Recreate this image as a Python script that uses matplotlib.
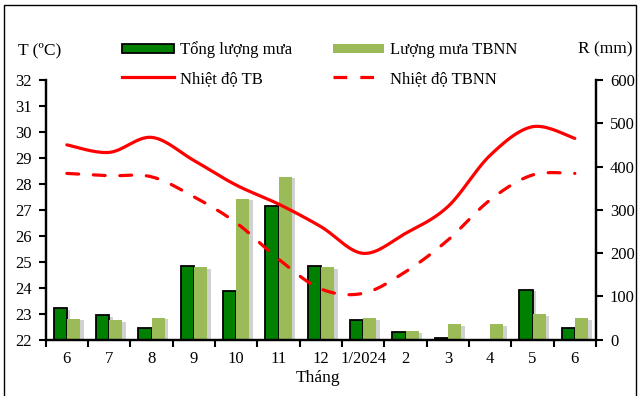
import numpy as np
import matplotlib
matplotlib.use("Agg")
import matplotlib.pyplot as plt
import matplotlib.patheffects as pe
from matplotlib.lines import Line2D
from matplotlib.patches import Patch, Rectangle

months = ["6", "7", "8", "9", "10", "11", "12", "1/2024", "2", "3", "4", "5", "6"]
rain_total = [72, 56, 27, 170, 112, 309, 170, 46, 17, 4, 0, 115, 27]
rain_tbnn = [48, 44, 50, 167, 326, 376, 167, 49, 19, 35, 35, 58, 49]
temp_tb = [29.5, 29.21, 29.79, 28.9, 27.95, 27.22, 26.35, 25.32, 26.09, 27.12, 29.1, 30.2, 29.75]
temp_tbnn = [28.4, 28.31, 28.27, 27.5, 26.5, 25.1, 23.95, 23.78, 24.61, 25.83, 27.38, 28.34, 28.4]

plt.rcParams['font.family'] = ['Liberation Serif', 'DejaVu Serif']

def catmull(x, y, n=30):
    x = np.asarray(x, float); y = np.asarray(y, float)
    px = np.concatenate([[x[0]], x, [x[-1]]])
    py = np.concatenate([[y[0]], y, [y[-1]]])
    xs, ys = [], []
    t = np.linspace(0, 1, n, endpoint=False)
    for i in range(1, len(px) - 2):
        for arr, out in ((px, xs), (py, ys)):
            p0, p1, p2, p3 = arr[i-1], arr[i], arr[i+1], arr[i+2]
            out.append(0.5 * ((2*p1) + (-p0 + p2)*t + (2*p0 - 5*p1 + 4*p2 - p3)*t**2
                              + (-p0 + 3*p1 - 3*p2 + p3)*t**3))
    xs.append([x[-1]]); ys.append([y[-1]])
    return np.concatenate(xs), np.concatenate(ys)

fig = plt.figure(figsize=(6.4, 3.96), dpi=100)
ax = fig.add_axes([45.7/640, 1-339.5/396, (596-45.7)/640, (339.5-80)/396])
ax2 = ax.twinx()
ax.set_zorder(2)
ax.patch.set_visible(False)

x = np.arange(len(months))
w = 0.314
shadow = [pe.SimplePatchShadow(offset=(2.5, -1), shadow_rgbFace='0.55', alpha=0.4), pe.Normal()]
ax2.bar(x - w/2, rain_total, width=w, color='#008000', edgecolor='black', linewidth=1.3,
        path_effects=shadow)
ax2.bar(x + w/2, rain_tbnn, width=w, color='#9BBB59', edgecolor='none',
        path_effects=shadow)

dash = (3.7, 4.6)
sx, sy = catmull(x, temp_tb)
ax.plot(sx, sy, color='#FF0000', lw=2.3, solid_capstyle='round')
sx, sy = catmull(x, temp_tbnn)
ax.plot(sx, sy, color='#FF0000', lw=2.3, dashes=dash, dash_capstyle='round')

ax.set_xlim(-0.5, len(months) - 0.5)
ax.set_ylim(22, 32)
ax.set_yticks(np.arange(22, 33, 1))
ax2.set_ylim(0, 600)
ax2.set_yticks(np.arange(0, 601, 100))

ax.set_xticks(np.arange(-0.5, len(months), 1))
ax.set_xticklabels([])
ax.set_xticks(x, minor=True)
ax.set_xticklabels(months, minor=True)
ax.tick_params(axis='x', which='major', length=5, width=1.5, direction='out')
ax.tick_params(axis='x', which='minor', length=0, pad=8, labelsize=12)
ax.tick_params(axis='y', length=5, width=1.5, direction='out', pad=5, labelsize=12)
ax2.tick_params(axis='y', length=5, width=1.5, direction='out', pad=5, labelsize=12)

for a in (ax, ax2):
    a.spines['top'].set_visible(False)
    for s in ('left', 'right', 'bottom'):
        a.spines[s].set_linewidth(1.6)

fig.text(18/640, 1-50.5/396, "T (ºC)", fontsize=12.5, va='center', ha='left')
fig.text(632/640, 1-49/396, "R (mm)", fontsize=12.5, va='center', ha='right')
fig.text(318.5/640, 1-378/396, "Tháng", fontsize=12.5, va='center', ha='center')

handles = [Patch(facecolor='#008000', edgecolor='black', linewidth=1.3),
           Line2D([], [], color='#FF0000', lw=2.3),
           Patch(facecolor='#9BBB59', edgecolor='none'),
           Line2D([], [], color='#FF0000', lw=2.3, dashes=(4.3, 4.1), dash_capstyle='butt')]
labels = ["Tổng lượng mưa", "Nhiệt độ TB", "Lượng mưa TBNN", "Nhiệt độ TBNN"]
leg = fig.legend(handles, labels, ncol=2, loc='upper left',
                 bbox_to_anchor=(122/640, 1-41.5/396), frameon=False, fontsize=12,
                 handlelength=3.1, handleheight=0.46, handletextpad=0.36,
                 columnspacing=2.45, labelspacing=0.74, borderaxespad=0, borderpad=0)

fig.add_artist(Rectangle((4/640, -0.05), 632/640, 1.05 - 5/396, transform=fig.transFigure,
                         fill=False, edgecolor='black', linewidth=1.0))

fig.savefig("out.png", dpi=100)
